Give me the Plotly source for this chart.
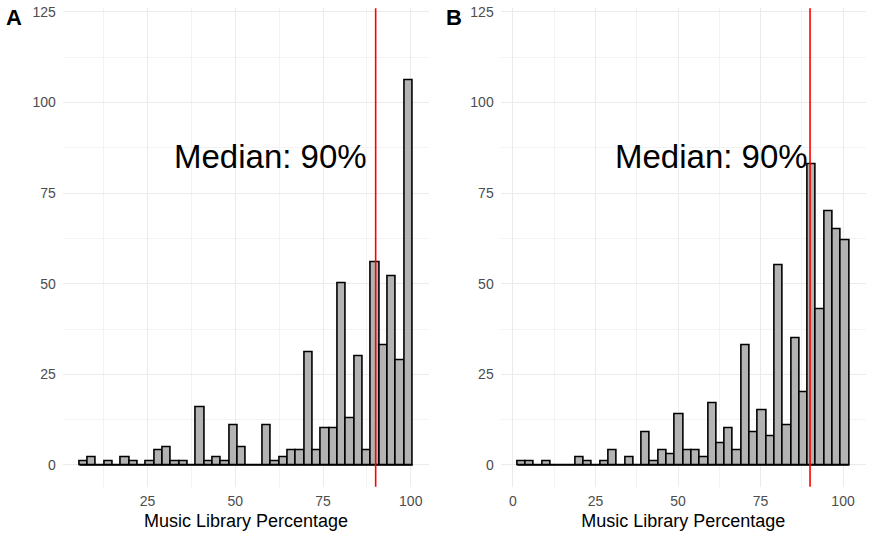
import plotly.graph_objects as go

# histogram counts (40 bins each)
counts_a = [1, 2, 0, 1, 0, 2, 1, 0, 1, 4,
            5, 1, 1, 0, 16, 1, 2, 1, 11, 5,
            0, 0, 11, 1, 2, 4, 4, 31, 4, 10,
            10, 50, 13, 30, 4, 56, 33, 52, 29, 106]
counts_b = [1, 1, 0, 1, 0, 0, 0, 2, 1, 0,
            1, 4, 0, 2, 0, 9, 1, 4, 3, 14,
            4, 4, 2, 17, 6, 10, 4, 33, 9, 15,
            8, 55, 11, 35, 20, 83, 43, 70, 65, 62]

# first bin centre and bin width of each histogram
bin_a = (6.79, 2.374)
bin_b = (2.56, 2.515)

median_pct = 90
median_label = "Median: 90%"
panel_tags = ["A", "B"]
x_title = "Music Library Percentage"
y_ticks = [0, 25, 50, 75, 100, 125]
x_ticks = [0, 25, 50, 75, 100]

FONT = "Liberation Sans, Arial, sans-serif"
GRID = "#ebebeb"

fig = go.Figure()

for i, (counts, (c0, w)) in enumerate([(counts_a, bin_a), (counts_b, bin_b)]):
    xa = "x" if i == 0 else f"x{i + 1}"
    ya = "y" if i == 0 else f"y{i + 1}"
    fig.add_trace(go.Bar(
        y=counts, x0=c0, dx=w, width=w,
        marker={"color": "#b3b3b3", "line": {"color": "black", "width": 1.6}},
        xaxis=xa, yaxis=ya, showlegend=False, hoverinfo="y",
    ))
    # baseline under empty bins, like ggplot's zero-height rectangles
    edges = [c0 - w / 2, c0 + w * (len(counts) - 0.5)]
    fig.add_trace(go.Scatter(
        x=edges, y=[0, 0], mode="lines",
        line={"color": "black", "width": 1.6},
        xaxis=xa, yaxis=ya, showlegend=False, hoverinfo="skip",
    ))
    fig.add_shape(type="line", x0=median_pct, x1=median_pct, y0=0, y1=1,
                  xref=xa, yref=f"{ya} domain",
                  line={"color": "#ff0000", "width": 1.6}, layer="above")
    fig.add_annotation(x=60, y=85, xref=xa, yref=ya, text=median_label,
                       showarrow=False, font={"size": 33, "color": "black"},
                       xanchor="center", yanchor="middle")

minor = {"showgrid": True, "gridcolor": "#f3f3f3", "gridwidth": 0.6,
         "dtick": 12.5, "tick0": 0}
axis_common = dict(
    showline=False, zeroline=False, ticks="", automargin=False,
    gridcolor=GRID, gridwidth=1.1,
    tickfont={"size": 14, "color": "#4d4d4d"},
    minor=minor,
)
x_common = dict(axis_common, tickvals=x_ticks, ticklabelstandoff=4,
                title={"text": x_title, "font": {"size": 18}, "standoff": 6})
y_common = dict(axis_common, tickvals=y_ticks, range=[-6, 126],
                domain=[0.0987, 0.9846], ticklabelstandoff=6)

fig.update_layout(
    width=875, height=540,
    margin={"l": 0, "r": 0, "t": 0, "b": 0},
    paper_bgcolor="white", plot_bgcolor="white",
    font={"family": FONT, "color": "black"},
    bargap=0,
    xaxis=dict(x_common, domain=[0.0717, 0.4907], range=[0.85, 105.3], anchor="y"),
    yaxis=dict(y_common, anchor="x"),
    xaxis2=dict(x_common, domain=[0.5722, 0.9895], range=[-3.73, 106.9], anchor="y2"),
    yaxis2=dict(y_common, anchor="x2"),
)

for tag, xpos in zip(panel_tags, [0.0046, 0.5071]):
    fig.add_annotation(x=xpos, y=0.9944, xref="paper", yref="paper", text=f"<b>{tag}</b>",
                       showarrow=False, font={"size": 22, "color": "black"},
                       xanchor="left", yanchor="top")

# drop the page's default body margin so the figure sits at the window corner
fig.write_html("out.html", config={"displayModeBar": False},
               post_script="document.body.style.margin = '0';")
